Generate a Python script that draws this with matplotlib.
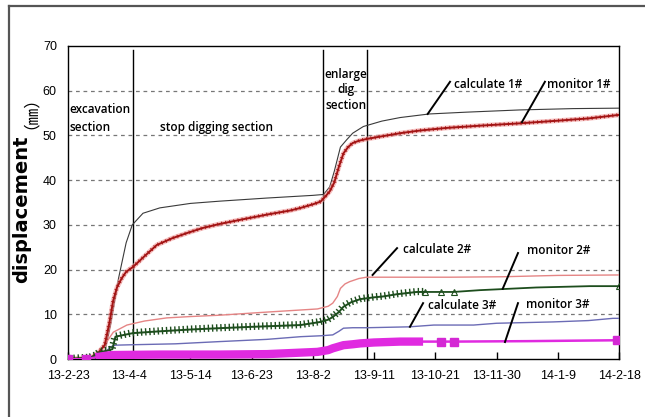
import numpy as np
import matplotlib
matplotlib.use("Agg")
import matplotlib.pyplot as plt
import matplotlib.patheffects as pe
from matplotlib.lines import Line2D
from matplotlib import font_manager

# settlement curves, days counted from 13-2-23, values in mm
tick_labels = ['13-2-23', '13-4-4', '13-5-14', '13-6-23', '13-8-2',
               '13-9-11', '13-10-21', '13-11-30', '14-1-9', '14-2-18']
tick_days = [0, 40, 80, 120, 160, 200, 240, 280, 320, 360]

calc1_d = [0, 18, 24, 28, 33, 38, 42, 49, 60, 80, 99, 130, 160, 167, 171, 174,
           178, 182, 186, 193, 205, 217, 236, 260, 295, 330, 360]
calc1_v = [0, 0, 1.5, 8, 18, 26, 30, 32.6, 33.8, 34.8, 35.3, 36, 36.6, 36.8, 38.5,
           42, 47.4, 49, 50.5, 52, 53.2, 54, 54.8, 55.2, 55.7, 56, 56.1]

mon1_d = [0, 15, 20, 24, 27, 29.5, 32, 35, 38, 42.5, 50, 58, 68, 78, 88, 99, 115,
          130, 145, 152, 160, 165, 168, 171, 174, 177, 180, 183, 186, 190, 195,
          205, 217, 230, 248, 270, 295, 320, 340, 360]
mon1_v = [0, 0.3, 1.5, 3.1, 8, 13, 16, 18, 19.5, 20.6, 23, 25.5, 27, 28.2, 29.3,
          30.2, 31.3, 32.3, 33.2, 33.8, 34.6, 35.2, 36.3, 37.5, 39.5, 43, 46, 47.4,
          48.3, 48.8, 49.2, 49.8, 50.5, 51.1, 51.7, 52.2, 52.7, 53.3, 53.8, 54.6]

calc2_d = [0, 18, 23, 29.6, 38.5, 50, 64.5, 80, 99, 130, 163, 170, 173, 176, 178,
           181, 184, 190, 195, 250, 284, 320, 360]
calc2_v = [0, 0, 2.7, 6, 7.6, 8.5, 9.2, 9.5, 9.8, 10.5, 11.2, 11.8, 12.5, 14, 15.8,
           16.8, 17.3, 18, 18.3, 18.3, 18.4, 18.7, 18.8]

mon2_d = [0, 14, 18, 21, 25, 29, 31, 42.5, 60, 80, 99, 120, 152, 165, 170, 173,
          177, 180, 185, 191, 200, 206, 215, 228, 233]
mon2_v = [0, 0.3, 0.8, 1.6, 1.8, 2.2, 5, 5.8, 6.2, 6.6, 6.9, 7.2, 7.6, 8.3, 8.8,
          9.4, 10.5, 11.7, 12.7, 13.4, 13.8, 14, 14.5, 15, 15]
mon2_tail_d = [233, 244, 252, 269, 306, 341, 360]
mon2_tail_v = [15, 15, 15, 15.4, 16, 16.3, 16.3]

calc3_d = [0, 18, 24, 27.5, 31, 42.5, 70, 99, 130, 152, 165, 173, 177, 180, 186,
           195, 223, 239, 265, 280, 317, 340, 356, 360]
calc3_v = [0, 0, 1.2, 2.7, 3.1, 3.2, 3.4, 3.9, 4.4, 5, 5.2, 5.4, 6.2, 6.9, 7, 7,
           7.2, 7.6, 7.6, 8, 8.3, 8.6, 9.1, 9.1]

mon3_d = [18, 22, 26, 30, 60, 99, 130, 163, 170, 173, 177, 180, 186, 191, 200,
          217, 232]
mon3_v = [0.4, 0.6, 0.8, 0.9, 1.0, 1.0, 1.1, 1.6, 2.0, 2.4, 2.8, 3.1, 3.3, 3.5,
          3.7, 3.9, 3.9]
mon3_tail_d = [232, 244, 252, 300, 359]
mon3_tail_v = [3.9, 3.9, 3.9, 4.0, 4.2]
mon3_head_d = [0, 12, 18]
mon3_head_v = [0, 0, 0.4]

section_days = [42.5, 166.6, 195.4]


def pick_font(names):
    for n in names:
        try:
            font_manager.findfont(n, fallback_to_default=False)
            return n
        except ValueError:
            pass
    return 'DejaVu Sans'


tick_font = pick_font(['Liberation Sans Narrow', 'DejaVu Sans Condensed',
                       'Liberation Sans'])
tick_size = 11 if tick_font != 'Liberation Sans' else 9
note_font = ['Open Sans', 'DejaVu Sans']

fig = plt.figure(figsize=(6.45, 4.17), dpi=100)
ax = fig.add_axes([0.1054, 0.139, 0.8543, 0.7507])

for yv in range(10, 70, 10):
    ax.axhline(yv, color='#777777', lw=0.9, dashes=(3, 3), zorder=1)

for d in section_days:
    ax.plot([d, d], [0, 69], color='black', lw=1.0, zorder=2)

ax.plot(calc1_d, calc1_v, color='#3a3a3a', lw=0.8, zorder=3)
ax.plot(mon1_d, mon1_v, color='#f29a9a', lw=3.5, alpha=0.6, zorder=3)
ax.plot(mon1_d, mon1_v, color='#a31414', lw=1.4, zorder=4,
        path_effects=[pe.TickedStroke(spacing=3, angle=90, length=0.35, linewidth=0.6),
                      pe.TickedStroke(spacing=3, angle=-90, length=0.35, linewidth=0.6),
                      pe.Normal()])

ax.plot(calc2_d, calc2_v, color='#e58585', lw=1.0, zorder=3)
ax.plot(mon2_d, mon2_v, color='#1d4d1d', lw=1.4, zorder=4,
        path_effects=[pe.TickedStroke(spacing=3, angle=90, length=0.8, linewidth=1.0),
                      pe.TickedStroke(spacing=3, angle=-90, length=0.6, linewidth=1.0),
                      pe.Normal()])
ax.plot(mon2_tail_d, mon2_tail_v, color='#1d4d1d', lw=1.3, zorder=4)
ax.plot([233, 244, 252, 360], [15, 15, 15, 16.3], ls='none', marker='^',
        ms=4, mfc='none', mec='#1d4d1d', mew=0.8, zorder=4)

ax.plot(calc3_d, calc3_v, color='#6b6bb5', lw=1.0, zorder=3)
ax.plot(mon3_d, mon3_v, color='#e02ae0', lw=6, solid_capstyle='butt', zorder=4)
ax.plot(mon3_head_d, mon3_head_v, color='#e02ae0', lw=1.5, zorder=4)
ax.plot(mon3_tail_d, mon3_tail_v, color='#e02ae0', lw=1.8, zorder=4)
ax.plot([0, 12, 244, 252, 359], [0, 0, 3.9, 3.9, 4.2], ls='none', marker='s',
        ms=6, color='#d428d4', zorder=5)

# labels and leader lines
notes = [
    ('calculate 1#', 252, 61.3, [249.6, 235], [62, 54.8]),
    ('monitor 1#', 313, 61.3, [311.6, 296.6], [62, 53]),
    ('calculate 2#', 219, 24.6, [215, 199], [24.8, 18.8]),
    ('monitor 2#', 300, 24.2, [294, 284], [23.7, 15.7]),
    ('calculate 3#', 235, 11.9, [232, 223.4], [12.5, 7.2]),
    ('monitor 3#', 299, 12.1, [294, 285.5], [12.5, 3.8]),
]
for txt, tx, ty, lx, ly in notes:
    ax.plot(lx, ly, color='black', lw=1.4, zorder=6)
    ax.text(tx, ty, txt, fontsize=8.5, family=note_font, fontweight='semibold',
            va='center', ha='left', zorder=6)

ax.text(0.8, 55.7, 'excavation', fontsize=8.5, family=note_font,
        fontweight='semibold', va='center')
ax.text(0.8, 51.7, 'section', fontsize=8.5, family=note_font,
        fontweight='semibold', va='center')
ax.text(60, 51.7, 'stop digging section', fontsize=8.5, family=note_font,
        fontweight='semibold', va='center')
ax.text(181.5, 60.2, 'enlarge\ndig\nsection', fontsize=8.5, family=note_font,
        fontweight='semibold', va='center', ha='center', linespacing=1.25)

ax.set_xlim(0, 360)
ax.set_ylim(0, 70)
ax.set_xticks(tick_days)
ax.set_xticklabels(tick_labels, family=tick_font, fontsize=tick_size)
ax.set_yticks(range(0, 80, 10))
ax.set_yticklabels([str(v) for v in range(0, 80, 10)], family=tick_font,
                   fontsize=tick_size)
ax.tick_params(axis='x', direction='in', length=5, width=1, pad=8)
ax.tick_params(axis='y', length=0, pad=8)
for s in ax.spines.values():
    s.set_linewidth(1.0)

fig.text(22 / 645, 1 - 209 / 417, 'displacement', rotation=90,
         fontsize=14, fontweight='bold', family='DejaVu Sans',
         ha='center', va='center')
fig.text(22 / 645, 1 - 104 / 417, '（㎜）', rotation=90,
         fontsize=12, family=['Noto Sans CJK SC', 'DejaVu Sans'],
         ha='center', va='center')

# outer picture frame
fig.add_artist(Line2D([9 / 645, 1], [1 - 6 / 417, 1 - 6 / 417],
                      color='#555555', lw=1.6))
fig.add_artist(Line2D([9 / 645, 9 / 645], [0, 1 - 6 / 417],
                      color='#555555', lw=1.6))

fig.savefig('out.png', dpi=100)
